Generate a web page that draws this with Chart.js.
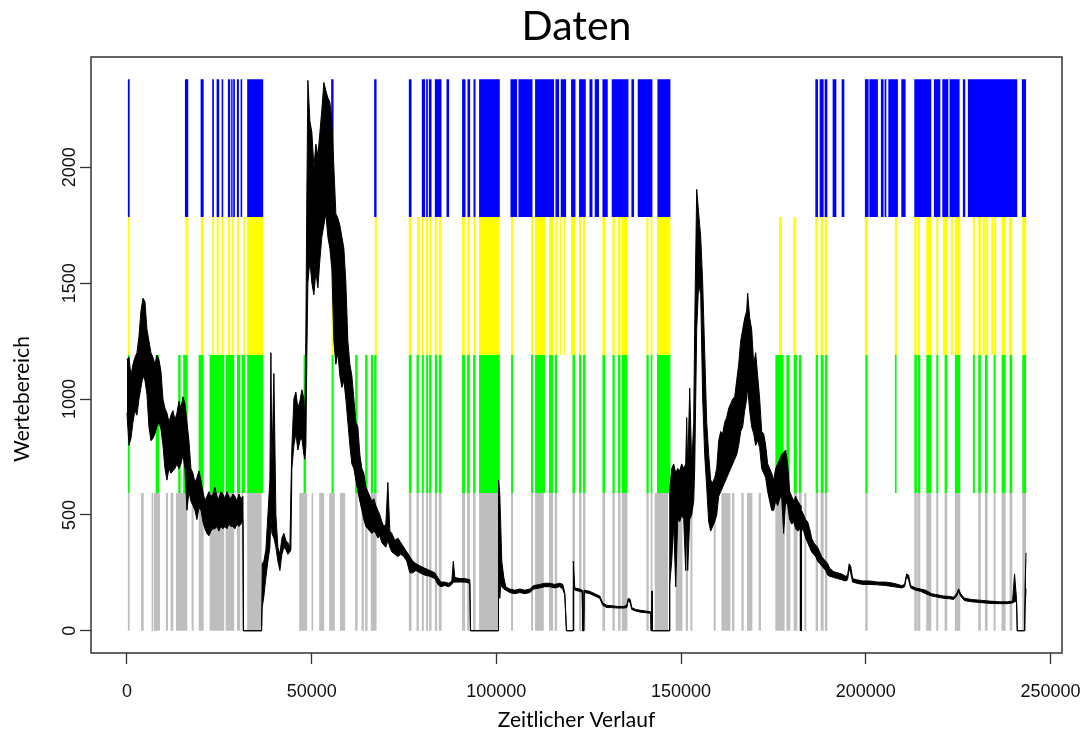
<!DOCTYPE html>
<html lang="de">
<head>
<meta charset="utf-8">
<title>Daten</title>
<script src="https://cdn.jsdelivr.net/npm/chart.js@4.4.1/dist/chart.umd.min.js"></script>
<style>
  html, body { margin: 0; padding: 0; background: #ffffff; }
  #rahmen { width: 1089px; height: 736px; }
</style>
</head>
<body>
<div id="rahmen"><canvas id="diagramm" width="1089" height="736"></canvas></div>
<script>
// Achsenbeschriftung
const xTicks = [0, 50000, 100000, 150000, 200000, 250000];
const yTicks = [0, 500, 1000, 1500, 2000];

// Grenzen der vier Wertebereiche (unten -> oben)
const bandGrenzen = [0, 595, 1190, 1785, 2380];

// Zeitabschnitte, in denen der jeweilige Bereich aktiv ist [von, bis]
const bereichGrau = [[190,730],[3790,4520],[6680,7120],[7310,8930],[10550,11100],[11830,12530],[13260,16320],[17510,18050],[19400,20760],[22380,26330],[26710,29040],[29770,30660],[31040,31470],[32550,36450],[46620,48790],[49980,50410],[52040,53390],[54740,56290],[57640,59070],[61780,62430],[63510,64130],[64480,65130],[66030,67570],[76310,77040],[78390,79020],[79830,80370],[80990,81530],[81800,82450],[83350,83970],[84430,85160],[90730,91540],[92090,92820],[93710,94360],[95330,100660],[103990,104530],[109400,109950],[110490,112840],[114270,115360],[115820,116440],[120610,121310],[122390,123040],[123470,124120],[128720,129430],[131430,132050],[132950,133600],[133950,135490],[140630,141250],[141790,142250],[142880,146480],[148560,150370],[151270,151890],[152540,153080],[158840,159380],[160930,163360],[163790,164440],[166340,166960],[167850,169310],[171020,171640],[175540,178050],[178520,179600],[180490,181490],[181920,182660],[183390,183930],[186440,187070],[187800,188610],[188960,189610],[199890,200510],[213150,213860],[213960,214780],[216400,217750],[219100,219650],[221350,222080],[224140,225600],[230470,231170],[232260,232990],[234610,235150],[236780,237860],[238940,239670],[242380,243460]];
const bereichGruen = [[190,730],[7770,8740],[13880,14530],[15230,16430],[19400,20760],[22380,26330],[26710,29040],[29770,30660],[31040,31930],[32550,36880],[47810,48440],[55390,55930],[61780,62430],[64480,65130],[66030,66650],[66920,67570],[76310,77040],[78390,79020],[79830,80370],[80990,81530],[81800,82450],[83350,83970],[84430,85160],[90730,91540],[92090,92820],[93710,94360],[95330,100930],[103990,104530],[109400,109950],[110490,113190],[114270,115360],[115820,116440],[120610,121310],[122390,123040],[123470,124120],[128720,129430],[131430,132050],[132950,133600],[133950,135490],[140630,141250],[141790,142250],[143500,147130],[175540,177780],[178520,179410],[180490,181380],[181920,182570],[186440,187070],[187800,188610],[188960,189610],[199890,200510],[207900,208360],[213150,213860],[214130,214780],[216400,217750],[219100,219650],[221350,222080],[224140,225600],[229010,229550],[230470,231170],[232260,232990],[234610,235150],[236780,237860],[238940,239670],[242380,243460]];
const bereichGelb = [[190,730],[15880,16590],[20020,20760],[23080,23540],[24270,24810],[25630,26060],[27330,27870],[28410,28870],[29770,30310],[31470,31930],[32550,36880],[55390,55930],[67110,67650],[76310,77040],[78560,79290],[79830,80370],[80990,81530],[81910,82450],[83350,83890],[84510,85050],[90730,91460],[92190,92820],[93820,94360],[95330,100930],[103990,104530],[109400,109950],[110490,113190],[114270,115360],[116010,116440],[117170,117520],[118250,118600],[120230,121310],[122390,123040],[123470,124020],[128720,129430],[131430,132050],[132950,133600],[133950,135490],[140630,141170],[141790,142250],[143500,147130],[176510,177320],[180410,181170],[186360,186990],[187800,188530],[188960,189610],[199780,200510],[207900,208440],[213150,213770],[214040,214670],[216400,217750],[219100,219650],[220890,222080],[223060,223600],[224140,225600],[229010,229550],[230470,231170],[231710,232260],[232640,233180],[233990,234530],[234800,235340],[236780,237860],[238750,239670],[242380,243460]];
const bereichBlau = [[190,730],[15700,16590],[19940,20760],[23080,23540],[24270,24980],[25630,26060],[27330,27950],[28220,28600],[28770,29230],[29770,30310],[30770,31200],[32550,36880],[55280,55930],[66920,67570],[76310,77040],[79830,80720],[80990,81450],[81720,82450],[83350,85160],[86510,87210],[90730,91650],[92190,92900],[93820,94360],[95330,100930],[103830,105620],[105990,109780],[110490,115630],[116010,116980],[117440,118880],[120230,121420],[122390,124210],[125210,126020],[126640,127800],[128720,130160],[131240,135760],[136570,137280],[138280,142250],[143610,147130],[186360,187070],[187530,188610],[188880,189610],[191040,192050],[193480,194210],[199780,200790],[200980,203300],[204110,204840],[205110,205580],[206120,208710],[209630,210800],[213150,217750],[218460,220190],[220730,222350],[222700,225410],[226300,226950],[227660,241020],[242270,243460]];

// Messreihe: Zeitpunkte mit oberer und unterer Hüllkurve der Schwankung
const zeitpunkte = [
  0,541,1082,1624,2165,2706,3247,3788,4330,4871,
  5412,5953,6494,7036,7577,8118,8659,9200,9742,10283,
  10824,11365,11906,12448,12989,13530,14071,14612,15154,15695,
  16236,16777,17318,17860,18401,18942,19483,20024,20566,21107,
  21648,22189,22730,23272,23813,24354,24895,25436,25978,26519,
  27060,27601,28142,28684,29225,29766,30307,30848,31390,31550,
  36450,36610,37072,37613,38155,38696,38966,39237,39778,40319,
  40861,41402,41943,42484,43025,43567,44108,44378,44649,45190,
  45731,46273,46814,47355,47896,48167,48437,48708,48979,49520,
  50061,50602,51143,51685,52226,52767,53308,53849,54391,54932,
  55473,56014,56555,57097,57638,58179,58720,59261,59803,60344,
  60885,61426,61967,62509,63050,63591,64132,64673,65215,65756,
  66297,66838,67379,67921,68462,69003,69544,70085,70627,71168,
  71709,72521,73333,74144,74956,75768,76580,77392,78203,79286,
  80639,81992,83345,84157,84968,86051,87133,87945,88351,88757,
  90110,91463,92816,93005,100474,100582,100934,101204,101475,102016,
  102557,103640,104993,106346,107699,109052,110134,111758,113111,114464,
  115817,117170,117982,118523,118983,120769,120850,121229,122582,123258,
  123394,123664,123800,125288,126641,127994,128806,129888,131241,132865,
  134488,135300,135706,136247,136653,137735,139088,140441,141794,141929,
  142065,142146,142227,146746,146936,147477,148018,148559,149101,149642,
  150183,150724,151265,151536,151807,152348,152889,153430,153701,154242,
  154783,155324,155866,156407,156948,157489,158030,158572,159113,159654,
  160195,160736,161278,161819,162360,162901,163442,163984,164525,165066,
  165607,166148,166690,167231,167772,168043,168584,169125,169666,170207,
  170749,171290,171831,172372,172913,173455,173996,174537,175078,175619,
  176161,176702,177243,177784,178325,178867,179408,179949,180490,181031,
  181573,182330,182466,182601,183196,183737,184279,184820,185361,185902,
  186443,186985,187526,188067,188608,189149,189691,190232,191314,192397,
  193479,194561,195103,195508,195914,196456,197538,199162,201056,203221,
  205385,207550,209715,210527,211068,211609,212150,213503,214856,216209,
  217833,219457,221080,222704,223786,224598,225139,225680,226763,228657,
  230822,233528,236234,238399,239752,240293,240834,241024,242999,243134,
  243405
];
const maxima = [
  1170,1180,1100,1150,1180,1200,1270,1380,1435,1420,
  1300,1250,1200,1180,1150,1190,1170,1120,1000,960,
  940,900,930,950,910,940,990,960,1010,980,
  900,820,700,680,640,660,690,650,600,560,
  580,600,580,590,620,580,570,600,590,570,
  600,580,570,590,580,560,590,570,580,0,
  0,290,300,350,500,650,1200,700,1110,500,
  360,330,400,420,390,380,360,600,790,1000,
  1030,960,990,1040,1000,900,1300,1900,2375,2200,
  2150,2000,2100,2050,2150,2250,2366,2330,2300,2280,
  2200,2000,1800,1780,1750,1700,1650,1500,1250,1150,
  1100,1000,900,880,760,700,680,620,600,580,
  560,570,540,520,500,470,450,460,640,430,
  420,390,400,380,360,340,320,300,290,280,
  270,260,250,230,210,210,205,215,300,230,
  225,225,220,0,0,650,590,450,300,230,
  190,180,175,180,175,180,195,200,205,205,
  200,205,200,165,0,0,300,185,180,175,
  0,0,175,170,160,150,120,110,108,105,
  105,110,140,135,100,92,88,85,82,0,
  0,172,0,0,600,700,720,680,700,690,
  720,700,720,920,700,1047,720,900,1320,1905,
  1800,1700,1500,1200,900,760,650,640,660,700,
  820,860,850,900,920,960,980,1000,1010,1080,
  1150,1250,1300,1349,1380,1457,1350,1300,1150,1200,
  1100,1000,860,850,800,720,700,680,650,700,
  720,740,760,770,780,720,600,580,560,580,
  560,540,0,520,500,480,470,440,400,380,
  370,360,340,320,310,300,290,270,255,250,
  245,235,240,289,280,225,220,215,215,210,
  210,205,195,200,245,240,195,185,180,175,
  160,155,150,148,145,160,181,160,140,135,
  132,128,125,125,128,245,135,0,0,185,
  336
];
const minima = [
  940,800,830,900,950,930,1000,1050,1100,1080,
  1020,880,820,830,850,880,900,870,800,700,
  650,700,680,690,700,720,700,720,760,700,
  520,600,560,540,520,480,530,520,470,440,
  420,410,430,440,440,450,430,450,440,450,
  440,460,450,450,440,460,450,460,480,0,
  0,100,150,230,300,360,500,420,400,360,
  300,260,330,360,350,330,340,350,700,800,
  850,780,820,830,760,740,800,1200,1500,1600,
  1500,1450,1550,1480,1600,1700,1750,1800,1700,1650,
  1560,1250,1150,1200,1100,1050,1080,1000,900,800,
  720,700,650,600,560,520,480,450,440,430,
  420,430,420,400,410,380,370,360,390,360,
  340,330,320,330,320,300,250,250,260,250,
  240,235,225,200,190,195,190,200,210,210,
  210,210,205,0,0,200,140,200,190,180,
  175,165,160,165,160,165,180,185,190,190,
  185,190,180,155,0,0,185,175,170,165,
  0,0,165,160,150,140,110,100,100,98,
  98,100,130,120,92,85,80,78,75,0,
  0,0,0,0,200,300,460,190,480,470,
  500,480,260,500,260,480,500,560,700,1300,
  1500,1450,1000,760,620,470,430,450,470,500,
  580,600,620,640,660,680,700,720,740,760,
  800,860,880,950,1000,1050,950,880,850,800,
  820,790,700,680,660,600,560,520,520,560,
  540,570,580,420,560,540,480,460,470,440,
  430,440,0,440,430,400,380,360,340,330,
  320,300,290,280,270,260,240,235,230,225,
  220,215,220,270,250,210,205,200,200,198,
  195,190,185,190,235,220,185,175,170,160,
  150,145,140,138,135,150,170,150,130,125,
  122,118,117,117,120,125,125,0,0,100,
  180
];

// Abschnitte als Stufenlinie: oben während des Intervalls, sonst auf der Bereichsuntergrenze
function stufen(intervalle, unten, oben) {
  const punkte = [];
  intervalle.forEach(([von, bis]) => {
    punkte.push({ x: von, y: oben }, { x: bis, y: unten });
  });
  return punkte;
}

function kurve(werte) {
  return zeitpunkte.map((x, i) => ({ x, y: werte[i] }));
}

function bereich(label, intervalle, stufe, farbe) {
  return {
    label,
    data: stufen(intervalle, bandGrenzen[stufe], bandGrenzen[stufe + 1]),
    stepped: true,
    fill: { value: bandGrenzen[stufe] },
    backgroundColor: farbe,
    borderColor: 'rgba(0,0,0,0)',
    borderWidth: 0,
    pointRadius: 0,
    order: 2
  };
}

// Rahmen um die Zeichenfläche
const rahmenPlugin = {
  id: 'rahmenPlugin',
  afterDraw(chart) {
    const { ctx, chartArea: a } = chart;
    ctx.save();
    ctx.strokeStyle = '#333333';
    ctx.lineWidth = 1.5;
    ctx.strokeRect(a.left, a.top, a.right - a.left, a.bottom - a.top);
    ctx.restore();
  }
};

// Titel der y-Achse, mittig über dem beschrifteten Tickbereich
const yTitelPlugin = {
  id: 'yTitelPlugin',
  afterDraw(chart) {
    const { ctx } = chart;
    const sy = chart.scales.y;
    const mitte = (sy.getPixelForValue(yTicks[0]) + sy.getPixelForValue(yTicks[yTicks.length - 1])) / 2;
    ctx.save();
    ctx.translate(sy.left + 22, mitte);
    ctx.rotate(-Math.PI / 2);
    ctx.font = '21px Lato, "Open Sans", sans-serif';
    ctx.fillStyle = '#000000';
    ctx.textAlign = 'center';
    ctx.textBaseline = 'middle';
    ctx.fillText('Wertebereich', 0, 0);
    ctx.restore();
  }
};

const tickSchrift = { family: '"Liberation Sans", Arial, sans-serif', size: 18 };
const titelSchrift = { family: 'Lato, "Open Sans", sans-serif', size: 21, lineHeight: 1.2 };

new Chart(document.getElementById('diagramm'), {
  type: 'line',
  data: {
    datasets: [
      { label: 'Minimum', data: kurve(minima), borderColor: '#000000', borderWidth: 1, pointRadius: 0, fill: false, order: 0 },
      { label: 'Maximum', data: kurve(maxima), borderColor: '#000000', borderWidth: 1, backgroundColor: '#000000', pointRadius: 0, fill: '-1', order: 0 },
      bereich('Bereich 1', bereichGrau, 0, '#bebebe'),
      bereich('Bereich 2', bereichGruen, 1, '#00ff00'),
      bereich('Bereich 3', bereichGelb, 2, '#ffff00'),
      bereich('Bereich 4', bereichBlau, 3, '#0000ff')
    ]
  },
  options: {
    responsive: false,
    animation: false,
    events: [],
    layout: { padding: { left: 0, right: 27, top: 0, bottom: 0 } },
    plugins: {
      legend: { display: false },
      tooltip: { enabled: false },
      title: {
        display: true,
        text: 'Daten',
        fullSize: false,
        color: '#000000',
        font: { family: 'Lato, "Open Sans", sans-serif', size: 41, weight: 'normal', lineHeight: 1.2 },
        padding: { top: 2, bottom: 5.8 }
      }
    },
    scales: {
      x: {
        type: 'linear',
        min: -9736,
        max: 253136,
        afterBuildTicks: (s) => { s.ticks = xTicks.map((v) => ({ value: v })); },
        afterFit: (s) => { s.height = 83; s.paddingLeft = 0; s.paddingRight = 0; },
        border: { display: false },
        grid: { drawOnChartArea: false, drawTicks: true, tickLength: 11, tickColor: '#333333', tickWidth: 1.3 },
        ticks: { autoSkip: false, maxRotation: 0, padding: 17, color: '#111111', font: tickSchrift, callback: (v) => String(v) },
        title: { display: true, text: 'Zeitlicher Verlauf', color: '#000000', font: titelSchrift, padding: { top: 0, bottom: 3 } }
      },
      y: {
        type: 'linear',
        min: -96,
        max: 2476,
        afterBuildTicks: (s) => { s.ticks = yTicks.map((v) => ({ value: v })); },
        afterFit: (s) => { s.width = 91; s.paddingTop = 0; s.paddingBottom = 0; },
        border: { display: false },
        grid: { drawOnChartArea: false, drawTicks: true, tickLength: 11, tickColor: '#333333', tickWidth: 1.3 },
        ticks: { autoSkip: false, minRotation: 90, maxRotation: 90, crossAlign: 'center', padding: -10, color: '#111111', font: tickSchrift, callback: (v) => String(v) },
        title: { display: false }
      }
    }
  },
  plugins: [rahmenPlugin, yTitelPlugin]
});
</script>
</body>
</html>
